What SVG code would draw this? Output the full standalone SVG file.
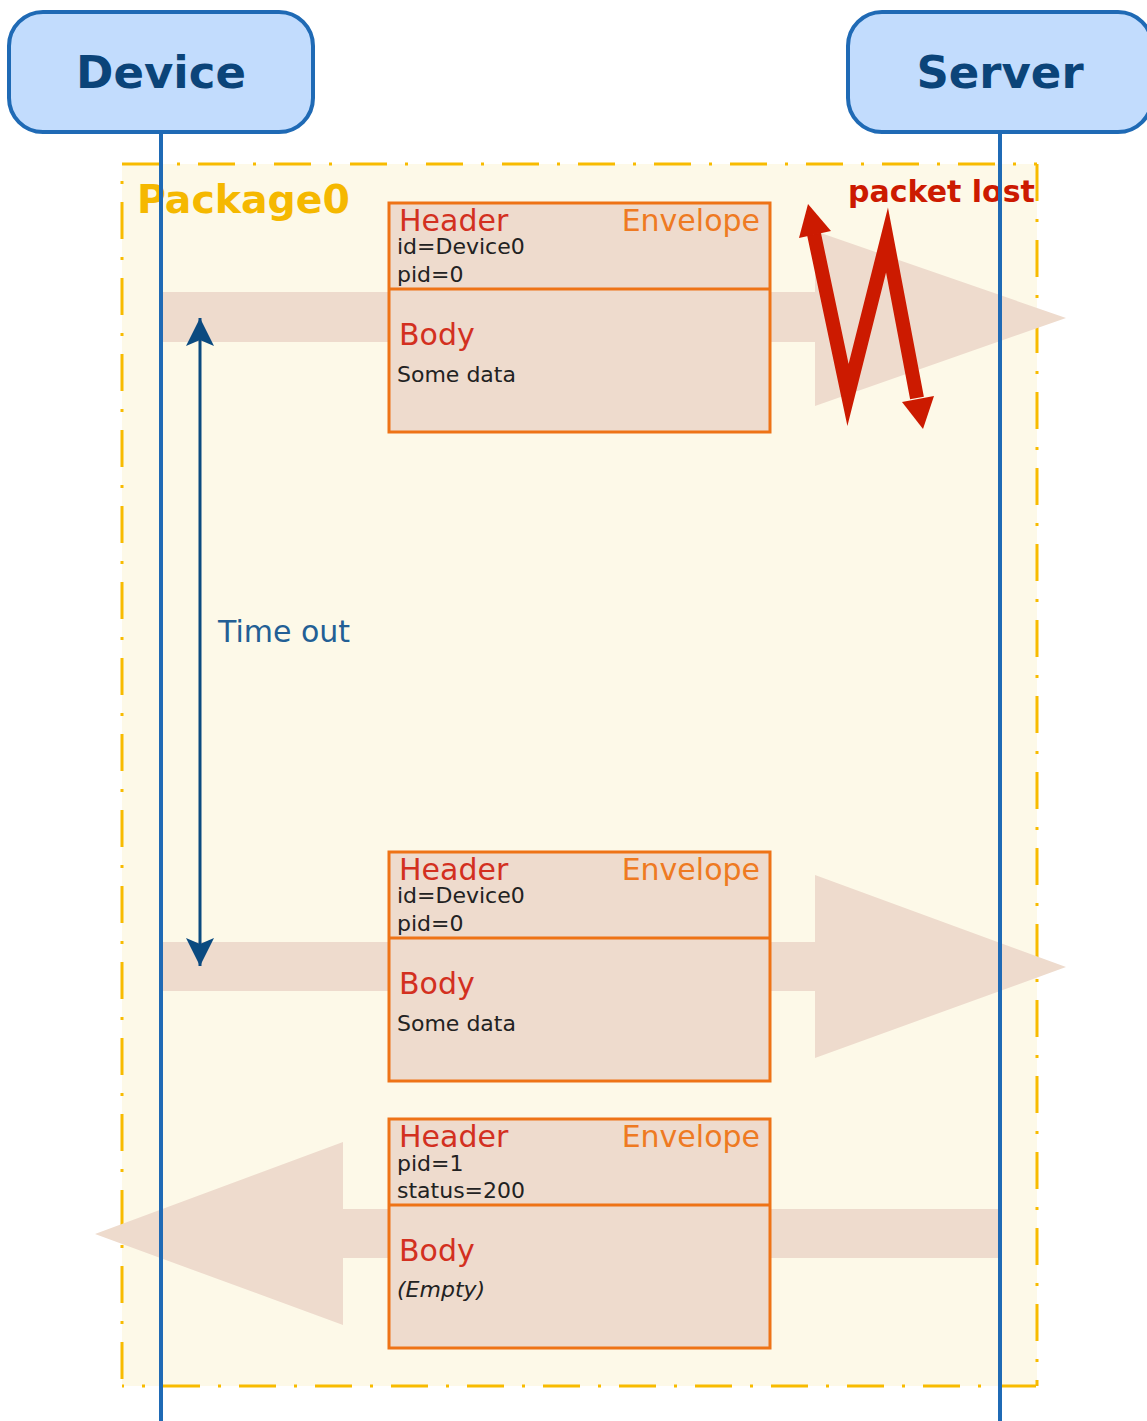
<svg xmlns="http://www.w3.org/2000/svg" width="1147" height="1421" viewBox="0 0 1147 1421">
<defs>
<style>
.actor{fill:#c2dcfd;stroke:#1f6ab5;stroke-width:4}
.actorText{font-family:"DejaVu Sans",sans-serif;font-weight:bold;font-size:45px;fill:#0b4479;text-anchor:middle}
.life{stroke:#1f6ab5;stroke-width:4;fill:none}
.pkgEdge{stroke:#f8bb00;stroke-width:3;stroke-dasharray:37 18 3 18;fill:none}
.band{fill:#eedbcd}
.env{fill:#eedbcd;stroke:#ee7316;stroke-width:3}
.hdr{font-family:"DejaVu Sans",sans-serif;font-size:30px;fill:#d3301f}
.envl{font-family:"DejaVu Sans",sans-serif;font-size:30px;fill:#ee7a22;text-anchor:end}
.small{font-family:"DejaVu Sans",sans-serif;font-size:22px;fill:#222222}
</style>
<marker id="blueHead" viewBox="0 0 30 30" refX="28" refY="15" markerWidth="30" markerHeight="30" markerUnits="userSpaceOnUse" orient="auto-start-reverse">
<path d="M0,1 L28,15 L0,29 L6,15 Z" fill="#0a4a80"/>
</marker>
</defs>
<rect width="1147" height="1421" fill="#ffffff"/>

<g id="package0">
<rect x="122" y="164" width="915" height="1222" fill="#fdf9e8"/>
<line class="pkgEdge" x1="122" y1="164" x2="1037" y2="164"/>
<line class="pkgEdge" x1="1037" y1="164" x2="1037" y2="1386"/>
<line class="pkgEdge" x1="122" y1="164" x2="122" y2="1386" style="stroke-dashoffset:38"/>
<line class="pkgEdge" x1="122" y1="1386" x2="1037" y2="1386" style="stroke-dashoffset:35"/>
<text x="137" y="213" style="font-family:'DejaVu Sans',sans-serif;font-weight:bold;font-size:39.4px;fill:#f5b800">Package0</text>
</g>

<g id="connectors">
<polygon class="band" points="160,292 815,292 815,231 1066,318 815,406 815,342 160,342"/>
<polygon class="band" points="160,942 815,942 815,875 1066,967 815,1058 815,991 160,991"/>
<polygon class="band" points="1000,1209 343,1209 343,1142 95,1234 343,1325 343,1258 1000,1258"/>
<line x1="200" y1="318" x2="200" y2="966" stroke="#0a4a80" stroke-width="3" marker-start="url(#blueHead)" marker-end="url(#blueHead)"/>
</g>

<g id="envelope1">
<rect class="env" x="389" y="203" width="381" height="229"/>
<line x1="389" y1="289" x2="770" y2="289" stroke="#ee7316" stroke-width="3"/>
<text class="hdr" x="399" y="231">Header</text>
<text class="envl" x="760" y="231">Envelope</text>
<text class="small" x="397" y="254">id=Device0</text>
<text class="small" x="397" y="282">pid=0</text>
<text class="hdr" x="399" y="345">Body</text>
<text class="small" x="397" y="382">Some data</text>
</g>

<g id="envelope2">
<rect class="env" x="389" y="852" width="381" height="229"/>
<line x1="389" y1="938" x2="770" y2="938" stroke="#ee7316" stroke-width="3"/>
<text class="hdr" x="399" y="880">Header</text>
<text class="envl" x="760" y="880">Envelope</text>
<text class="small" x="397" y="903">id=Device0</text>
<text class="small" x="397" y="931">pid=0</text>
<text class="hdr" x="399" y="994">Body</text>
<text class="small" x="397" y="1031">Some data</text>
</g>

<g id="envelope3">
<rect class="env" x="389" y="1119" width="381" height="229"/>
<line x1="389" y1="1205" x2="770" y2="1205" stroke="#ee7316" stroke-width="3"/>
<text class="hdr" x="399" y="1147">Header</text>
<text class="envl" x="760" y="1147">Envelope</text>
<text class="small" x="397" y="1171">pid=1</text>
<text class="small" x="397" y="1198">status=200</text>
<text class="hdr" x="399" y="1261">Body</text>
<text class="small" x="397" y="1297" font-style="italic">(Empty)</text>
</g>

<g id="timeout-label">
<text x="218" y="642" style="font-family:'DejaVu Sans',sans-serif;font-size:30px;fill:#235f95">Time out</text>
</g>

<g id="packet-lost">
<polyline points="814,234 848,395 887,240 917,398" fill="none" stroke="#cc1a00" stroke-width="14" stroke-linejoin="miter" stroke-miterlimit="10"/>
<polygon points="808,204 831,231 799,238" fill="#cc1a00"/>
<polygon points="923,429 934,396 902,402" fill="#cc1a00"/>
<text x="848" y="202" style="font-family:'DejaVu Sans',sans-serif;font-weight:bold;font-size:30px;fill:#cc1a00">packet lost</text>
</g>

<g id="lifelines">
<line class="life" x1="161" y1="132" x2="161" y2="1421"/>
<line class="life" x1="1000" y1="132" x2="1000" y2="1421"/>
</g>

<g id="device">
<rect class="actor" x="9" y="12" width="304" height="120" rx="34"/>
<text class="actorText" x="161" y="88">Device</text>
</g>

<g id="server">
<rect class="actor" x="848" y="12" width="304" height="120" rx="34"/>
<text class="actorText" x="1000" y="88">Server</text>
</g>
</svg>
